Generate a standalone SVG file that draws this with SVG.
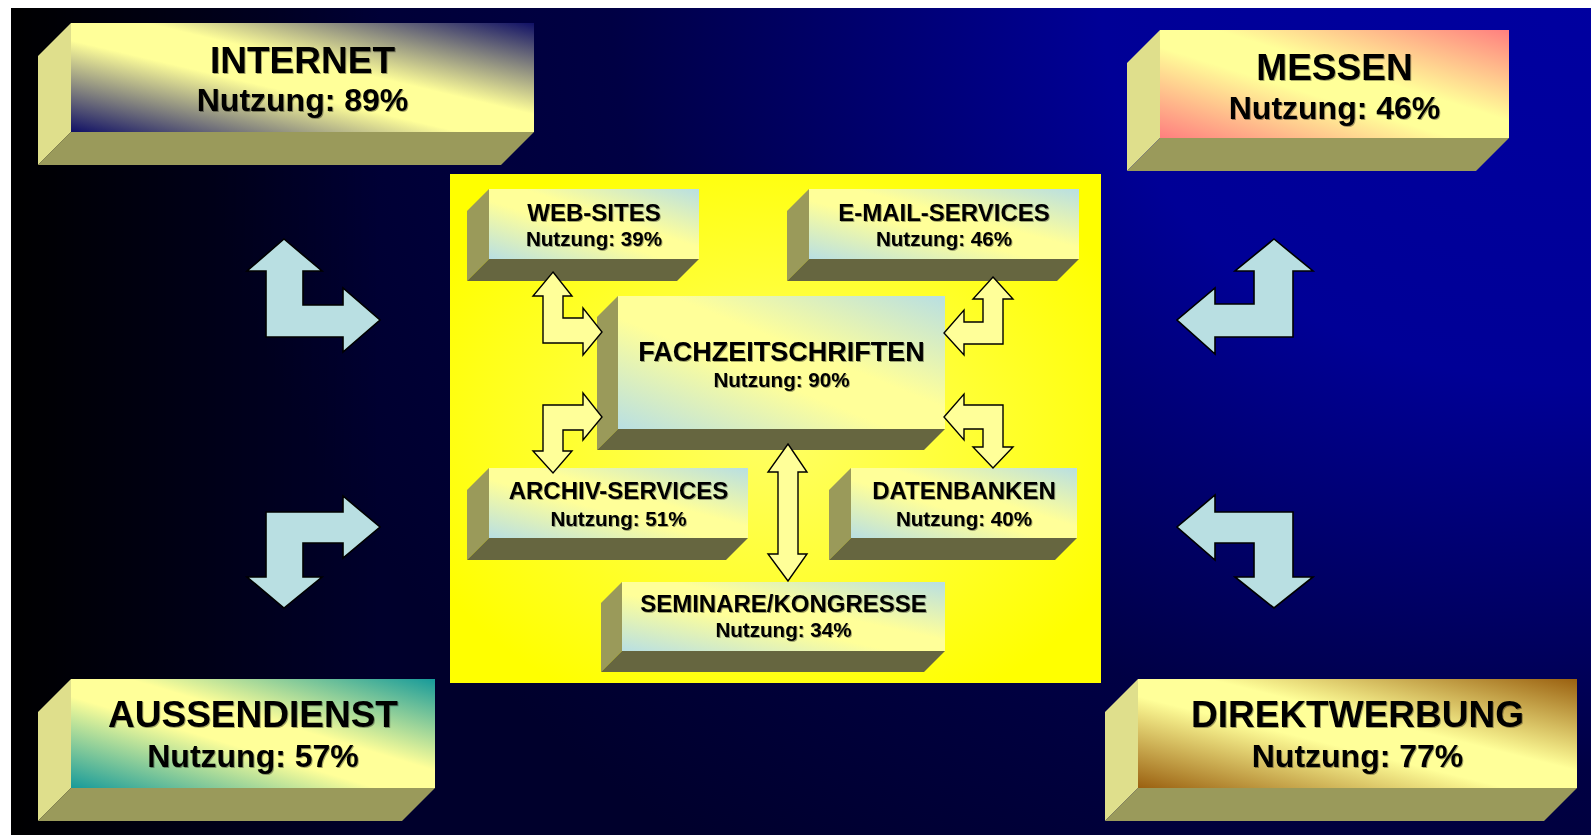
<svg xmlns="http://www.w3.org/2000/svg" width="1591" height="835" viewBox="0 0 1591 835">
<defs>
<radialGradient id="bgR" gradientUnits="userSpaceOnUse" cx="1591" cy="0" r="1400" gradientTransform="translate(1591 0) scale(1 0.786) translate(-1591 0)">
<stop offset="0" stop-color="#0000a0"/>
<stop offset="0.35" stop-color="#000096"/>
<stop offset="0.7" stop-color="#000044"/>
<stop offset="1" stop-color="#00002c"/>
</radialGradient>
<linearGradient id="bgL" gradientUnits="userSpaceOnUse" x1="11" y1="0" x2="380" y2="0">
<stop offset="0" stop-color="#000000" stop-opacity="1"/>
<stop offset="1" stop-color="#000000" stop-opacity="0"/>
</linearGradient>
<radialGradient id="panelG" cx="0.5" cy="0.5" r="0.6">
<stop offset="0" stop-color="#ffff66"/>
<stop offset="0.6" stop-color="#ffff2a"/>
<stop offset="1" stop-color="#ffff00"/>
</radialGradient>
<linearGradient id="gNavy" x1="0" y1="1" x2="1" y2="0">
<stop offset="0" stop-color="#101066"/>
<stop offset="0.42" stop-color="#ffff99"/>
<stop offset="0.58" stop-color="#ffff99"/>
<stop offset="1" stop-color="#101066"/>
</linearGradient>
<linearGradient id="gPink" x1="0" y1="1" x2="1" y2="0">
<stop offset="0" stop-color="#ff7f7f"/>
<stop offset="0.42" stop-color="#ffff99"/>
<stop offset="0.58" stop-color="#ffff99"/>
<stop offset="1" stop-color="#ff7f7f"/>
</linearGradient>
<linearGradient id="gTeal" x1="0" y1="1" x2="1" y2="0">
<stop offset="0" stop-color="#169a9a"/>
<stop offset="0.42" stop-color="#ffff99"/>
<stop offset="0.58" stop-color="#ffff99"/>
<stop offset="1" stop-color="#169a9a"/>
</linearGradient>
<linearGradient id="gBrown" x1="0" y1="1" x2="1" y2="0">
<stop offset="0" stop-color="#9a6010"/>
<stop offset="0.42" stop-color="#ffff99"/>
<stop offset="0.58" stop-color="#ffff99"/>
<stop offset="1" stop-color="#9a6010"/>
</linearGradient>
<linearGradient id="gBlue" x1="0" y1="1" x2="1" y2="0">
<stop offset="0" stop-color="#b8dfe3"/>
<stop offset="0.42" stop-color="#ffff99"/>
<stop offset="0.58" stop-color="#ffff99"/>
<stop offset="1" stop-color="#b8dfe3"/>
</linearGradient>
<filter id="ts" x="-10%" y="-30%" width="120%" height="160%">
<feDropShadow dx="1" dy="1" stdDeviation="0.6" flood-color="#000000" flood-opacity="0.35"/>
</filter>
</defs>
<style>
.oside{fill:#dfdf8c}
.obot{fill:#9a9a5b}
.iside{fill:#9a9a5a}
.ibot{fill:#666640}
text{font-family:"Liberation Sans",Arial,sans-serif;font-weight:bold;fill:#000;text-anchor:middle;filter:url(#ts)}
.ot{font-size:37px}
.os{font-size:32px}
.it{font-size:24px}
.is{font-size:20.6px}
.bigarrow{fill:#b9dfe2;stroke:#000;stroke-width:1.6;stroke-linejoin:miter}
.smallarrow{fill:#ffff99;stroke:#000;stroke-width:1.4;stroke-linejoin:miter}
</style>

<rect x="0" y="0" width="1591" height="835" fill="#ffffff"/>
<rect x="11" y="8" width="1580" height="827" fill="url(#bgR)"/>
<rect x="11" y="8" width="380" height="827" fill="url(#bgL)"/>

<g id="panel">
<rect x="450" y="174" width="651" height="509" fill="url(#panelG)"/>
</g>

<g id="internet">
<polygon class="oside" points="38,56 71,23 71,132 38,165"/>
<polygon class="obot" points="71,132 534,132 501,165 38,165"/>
<rect x="71" y="23" width="463" height="109" fill="url(#gNavy)"/>
<text class="ot" x="302.5" y="73">INTERNET</text>
<text class="os" x="302.5" y="111">Nutzung: 89%</text>
</g>

<g id="messen">
<polygon class="oside" points="1127,63 1160,30 1160,138 1127,171"/>
<polygon class="obot" points="1160,138 1509,138 1476,171 1127,171"/>
<rect x="1160" y="30" width="349" height="108" fill="url(#gPink)"/>
<text class="ot" x="1334.5" y="80">MESSEN</text>
<text class="os" x="1334.5" y="119">Nutzung: 46%</text>
</g>

<g id="aussendienst">
<polygon class="oside" points="38,712 71,679 71,788 38,821"/>
<polygon class="obot" points="71,788 435,788 402,821 38,821"/>
<rect x="71" y="679" width="364" height="109" fill="url(#gTeal)"/>
<text class="ot" x="253" y="727">AUSSENDIENST</text>
<text class="os" x="253" y="767">Nutzung: 57%</text>
</g>

<g id="direktwerbung">
<polygon class="oside" points="1105,712 1138,679 1138,788 1105,821"/>
<polygon class="obot" points="1138,788 1577,788 1544,821 1105,821"/>
<rect x="1138" y="679" width="439" height="109" fill="url(#gBrown)"/>
<text class="ot" x="1357.5" y="727">DIREKTWERBUNG</text>
<text class="os" x="1357.5" y="767">Nutzung: 77%</text>
</g>

<g id="websites">
<polygon class="iside" points="467,211 489,189 489,259 467,281"/>
<polygon class="ibot" points="489,259 699,259 677,281 467,281"/>
<rect x="489" y="189" width="210" height="70" fill="url(#gBlue)"/>
<text class="it" x="594" y="221">WEB-SITES</text>
<text class="is" x="594" y="246">Nutzung: 39%</text>
</g>

<g id="emailservices">
<polygon class="iside" points="787,211 809,189 809,259 787,281"/>
<polygon class="ibot" points="809,259 1079,259 1057,281 787,281"/>
<rect x="809" y="189" width="270" height="70" fill="url(#gBlue)"/>
<text class="it" x="944" y="221">E-MAIL-SERVICES</text>
<text class="is" x="944" y="246">Nutzung: 46%</text>
</g>

<g id="fachzeitschriften">
<polygon class="iside" points="597,317 618,296 618,429 597,450"/>
<polygon class="ibot" points="618,429 945,429 924,450 597,450"/>
<rect x="618" y="296" width="327" height="133" fill="url(#gBlue)"/>
<text class="it" x="781.5" y="361" style="font-size:27px">FACHZEITSCHRIFTEN</text>
<text class="is" x="781.5" y="387">Nutzung: 90%</text>
</g>

<g id="archivservices">
<polygon class="iside" points="467,490 489,468 489,538 467,560"/>
<polygon class="ibot" points="489,538 748,538 726,560 467,560"/>
<rect x="489" y="468" width="259" height="70" fill="url(#gBlue)"/>
<text class="it" x="618.5" y="499">ARCHIV-SERVICES</text>
<text class="is" x="618.5" y="526">Nutzung: 51%</text>
</g>

<g id="datenbanken">
<polygon class="iside" points="829,490 851,468 851,538 829,560"/>
<polygon class="ibot" points="851,538 1077,538 1055,560 829,560"/>
<rect x="851" y="468" width="226" height="70" fill="url(#gBlue)"/>
<text class="it" x="964" y="499">DATENBANKEN</text>
<text class="is" x="964" y="526">Nutzung: 40%</text>
</g>

<g id="seminare">
<polygon class="iside" points="601,603 622,582 622,651 601,672"/>
<polygon class="ibot" points="622,651 945,651 924,672 601,672"/>
<rect x="622" y="582" width="323" height="69" fill="url(#gBlue)"/>
<text class="it" x="783.5" y="612">SEMINARE/KONGRESSE</text>
<text class="is" x="783.5" y="637">Nutzung: 34%</text>
</g>

<g id="connectors">
<polygon class="bigarrow" points="284,239 322,271 303,271 303,305 343,305 343,288 380,320 343,352 343,337 266,337 266,271 247,271"/>
<polygon class="bigarrow" points="266,512 343,512 343,496 380,527 343,558 343,543 303,543 303,577 322,577 284,608 247,577 266,577"/>
<polygon class="bigarrow" points="1274,239 1313,271 1293,271 1293,337 1215,337 1215,354 1177,320 1215,288 1215,304 1254,304 1254,271 1235,271"/>
<polygon class="bigarrow" points="1293,512 1293,577 1313,577 1274,608 1235,577 1254,577 1254,543 1215,543 1215,560 1177,527 1215,495 1215,512"/>

<polygon class="smallarrow" points="553,272 572,296 563,296 563,318 583,318 583,308 602,332 583,355 583,343 543,343 543,296 533,296"/>
<polygon class="smallarrow" points="543,405 583,405 583,393 602,417 583,440 583,430 563,430 563,451 572,451 553,473 533,451 543,451"/>
<polygon class="smallarrow" points="993,277 1013,299 1003,299 1003,344 964,344 964,355 944,333 964,310 964,322 983,322 983,299 973,299"/>
<polygon class="smallarrow" points="1003,405 1003,447 1013,447 993,468 973,447 983,447 983,429 964,429 964,440 944,417 964,394 964,405"/>
<polygon class="smallarrow" points="788,444 807,472 798,472 798,554 807,554 788,581 768,554 778,554 778,472 768,472"/>
</g>
</svg>
